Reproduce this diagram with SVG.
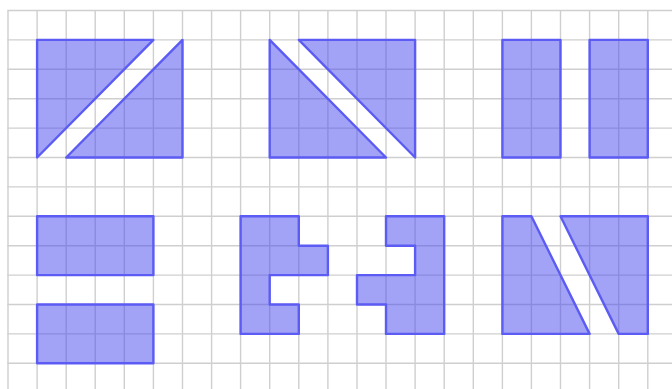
<svg xmlns="http://www.w3.org/2000/svg" width="672" height="389" viewBox="0 0 672 389">
<style>
.grid line{stroke:#cfcfcf;stroke-width:1.4}
.shape{fill:rgb(70,72,238);fill-opacity:0.5;stroke:#5c5cf4;stroke-width:2.4;stroke-linejoin:round}
</style>
<rect width="672" height="389" fill="#ffffff"/>
<g class="grid" id="grid">
<line x1="8" y1="10.5" x2="8" y2="389"/>
<line x1="37.1" y1="10.5" x2="37.1" y2="389"/>
<line x1="66.2" y1="10.5" x2="66.2" y2="389"/>
<line x1="95.2" y1="10.5" x2="95.2" y2="389"/>
<line x1="124.3" y1="10.5" x2="124.3" y2="389"/>
<line x1="153.4" y1="10.5" x2="153.4" y2="389"/>
<line x1="182.5" y1="10.5" x2="182.5" y2="389"/>
<line x1="211.6" y1="10.5" x2="211.6" y2="389"/>
<line x1="240.6" y1="10.5" x2="240.6" y2="389"/>
<line x1="269.7" y1="10.5" x2="269.7" y2="389"/>
<line x1="298.8" y1="10.5" x2="298.8" y2="389"/>
<line x1="327.9" y1="10.5" x2="327.9" y2="389"/>
<line x1="357" y1="10.5" x2="357" y2="389"/>
<line x1="386" y1="10.5" x2="386" y2="389"/>
<line x1="415.1" y1="10.5" x2="415.1" y2="389"/>
<line x1="444.2" y1="10.5" x2="444.2" y2="389"/>
<line x1="473.3" y1="10.5" x2="473.3" y2="389"/>
<line x1="502.4" y1="10.5" x2="502.4" y2="389"/>
<line x1="531.4" y1="10.5" x2="531.4" y2="389"/>
<line x1="560.5" y1="10.5" x2="560.5" y2="389"/>
<line x1="589.6" y1="10.5" x2="589.6" y2="389"/>
<line x1="618.7" y1="10.5" x2="618.7" y2="389"/>
<line x1="647.8" y1="10.5" x2="647.8" y2="389"/>
<line x1="7.3" y1="10.5" x2="672" y2="10.5"/>
<line x1="7.3" y1="39.9" x2="672" y2="39.9"/>
<line x1="7.3" y1="69.3" x2="672" y2="69.3"/>
<line x1="7.3" y1="98.7" x2="672" y2="98.7"/>
<line x1="7.3" y1="128.1" x2="672" y2="128.1"/>
<line x1="7.3" y1="157.5" x2="672" y2="157.5"/>
<line x1="7.3" y1="186.9" x2="672" y2="186.9"/>
<line x1="7.3" y1="216.3" x2="672" y2="216.3"/>
<line x1="7.3" y1="245.7" x2="672" y2="245.7"/>
<line x1="7.3" y1="275.1" x2="672" y2="275.1"/>
<line x1="7.3" y1="304.5" x2="672" y2="304.5"/>
<line x1="7.3" y1="333.9" x2="672" y2="333.9"/>
<line x1="7.3" y1="363.3" x2="672" y2="363.3"/>
</g>
<g id="pair1">
<polygon class="shape" points="37.1,39.9 153.4,39.9 37.1,157.5"/>
<polygon class="shape" points="182.5,39.9 182.5,157.5 66.2,157.5"/>
</g>
<g id="pair2">
<polygon class="shape" points="269.7,39.9 269.7,157.5 386,157.5"/>
<polygon class="shape" points="298.8,39.9 415.1,39.9 415.1,157.5"/>
</g>
<g id="pair3">
<rect class="shape" x="502.4" y="39.9" width="58.1" height="117.6"/>
<rect class="shape" x="589.6" y="39.9" width="58.2" height="117.6"/>
</g>
<g id="pair4">
<rect class="shape" x="37.1" y="216.3" width="116.3" height="58.8"/>
<rect class="shape" x="37.1" y="304.5" width="116.3" height="58.8"/>
</g>
<g id="pair5">
<polygon class="shape" points="240.6,216.3 298.8,216.3 298.8,245.7 327.9,245.7 327.9,275.1 269.7,275.1 269.7,304.5 298.8,304.5 298.8,333.9 240.6,333.9"/>
<polygon class="shape" points="386,216.3 444.2,216.3 444.2,333.9 386,333.9 386,304.5 357,304.5 357,275.1 415.1,275.1 415.1,245.7 386,245.7"/>
</g>
<g id="pair6">
<polygon class="shape" points="502.4,216.3 531.4,216.3 589.6,333.9 502.4,333.9"/>
<polygon class="shape" points="560.5,216.3 647.8,216.3 647.8,333.9 618.7,333.9"/>
</g>
</svg>
